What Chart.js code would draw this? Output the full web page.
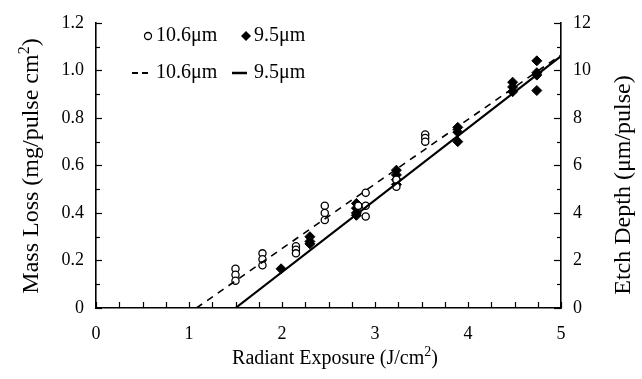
<!DOCTYPE html>
<html><head><meta charset="utf-8">
<script src="https://cdn.jsdelivr.net/npm/chart.js@4"></script>
<style>html,body{margin:0;padding:0;background:#fff}#wrap{width:642px;height:379px}</style>
</head><body>
<div id="wrap"><canvas id="c"></canvas></div>
<script>
// ---- data ----
const xTicks = [0, 1, 2, 3, 4, 5];
const yLeftTicks = [0, 0.2, 0.4, 0.6, 0.8, 1.0, 1.2];
const yRightTicks = [0, 2, 4, 6, 8, 10, 12];

// 10.6 um measured points (open circles)
const circX = [1.5, 1.5, 1.5, 1.79, 1.79, 1.79, 2.15, 2.15, 2.15, 2.46, 2.46, 2.46, 2.82, 2.9, 2.9, 2.9, 3.23, 3.23, 3.54, 3.54, 3.54];
const circY = [0.165, 0.14, 0.115, 0.23, 0.205, 0.18, 0.26, 0.245, 0.23, 0.43, 0.40, 0.37, 0.43, 0.485, 0.43, 0.385, 0.54, 0.51, 0.73, 0.715, 0.70];
// 9.5 um measured points (filled diamonds)
const diamX = [1.99, 2.3, 2.3, 2.3, 2.8, 2.8, 2.8, 2.8, 3.23, 3.23, 3.23, 3.23, 3.89, 3.89, 3.89, 4.48, 4.48, 4.48, 4.74, 4.74, 4.74, 4.74];
const diamY = [0.165, 0.30, 0.28, 0.27, 0.44, 0.42, 0.40, 0.39, 0.58, 0.56, 0.54, 0.52, 0.76, 0.74, 0.70, 0.95, 0.93, 0.91, 1.04, 0.99, 0.98, 0.915];
// fitted lines
const dashX = [1.08, 5.0];
const dashY = [0, 1.065];
const solidX = [1.5, 5.0];
const solidY = [0, 1.06];

const toPts = (xs, ys) => xs.map((x, i) => ({x, y: ys[i]}));
const SERIF = '"Liberation Serif", "DejaVu Serif", serif';

const inwardTicks = {
  id: 'inwardTicks',
  afterDatasetsDraw(chart) {
    const {ctx, chartArea: a, scales} = chart;
    ctx.save();
    ctx.strokeStyle = '#000';
    ctx.lineWidth = 1.2;
    const seg = (x1, y1, x2, y2) => { ctx.beginPath(); ctx.moveTo(x1, y1); ctx.lineTo(x2, y2); ctx.stroke(); };
    for (let i = 0; i <= 20; i++) {
      const px = Math.round(scales.x.getPixelForValue(i * 0.25)) + 0.5;
      seg(px, a.bottom, px, a.bottom - 6);
    }
    for (let i = 0; i <= 12; i++) {
      const py = Math.round(scales.y.getPixelForValue(i * 0.1)) + 0.5;
      seg(a.left, py, a.left + (i % 2 === 0 ? 6 : 4), py);
    }
    for (let i = 0; i <= 12; i++) {
      const py = Math.round(scales.y2.getPixelForValue(i)) + 0.5;
      seg(a.right, py, a.right - (i % 2 === 0 ? 7 : 4), py);
    }
    ctx.restore();
  }
};

// text with a superscript "2": parts = [before, sup, after]
function supText(ctx, parts, size, x, y, align) {
  const main = size + 'px ' + SERIF, small = Math.round(size * 0.68) + 'px ' + SERIF;
  ctx.font = main; const w1 = ctx.measureText(parts[0]).width, w3 = ctx.measureText(parts[2]).width;
  ctx.font = small; const w2 = ctx.measureText(parts[1]).width;
  const total = w1 + w2 + w3;
  let sx = align === 'center' ? x - total / 2 : x;
  ctx.textAlign = 'left'; ctx.textBaseline = 'alphabetic';
  ctx.font = main; ctx.fillText(parts[0], sx, y);
  ctx.font = small; ctx.fillText(parts[1], sx + w1, y - size * 0.38);
  ctx.font = main; ctx.fillText(parts[2], sx + w1 + w2, y);
}

const titlesPlugin = {
  id: 'axisTitles',
  afterDraw(chart) {
    const ctx = chart.ctx;
    ctx.save();
    ctx.fillStyle = '#000';
    // x title
    supText(ctx, ['Radiant Exposure (J/cm', '2', ')'], 20, 335, 364, 'center');
    // left title (reads bottom to top)
    ctx.save(); ctx.translate(38, 166); ctx.rotate(-Math.PI / 2);
    supText(ctx, ['Mass Loss (mg/pulse cm', '2', ')'], 24, 0, 0, 'center');
    ctx.restore();
    // right title (reads bottom to top)
    ctx.save(); ctx.translate(630, 185); ctx.rotate(-Math.PI / 2);
    ctx.font = '24px ' + SERIF; ctx.textAlign = 'center'; ctx.textBaseline = 'alphabetic';
    ctx.fillText('Etch Depth (\u03bcm/pulse)', 0, 0);
    ctx.restore();
    ctx.restore();
  }
};

const legendPlugin = {
  id: 'innerLegend',
  afterDraw(chart) {
    const ctx = chart.ctx;
    ctx.save();
    ctx.fillStyle = '#000';
    ctx.strokeStyle = '#000';
    ctx.font = '20px ' + SERIF;
    ctx.textBaseline = 'middle';
    ctx.textAlign = 'left';
    const r1 = 36, r2 = 73;
    ctx.lineWidth = 1.3;
    ctx.beginPath(); ctx.arc(148, r1, 3.5, 0, Math.PI * 2); ctx.stroke();
    ctx.fillText('10.6\u03bcm', 156, r1);
    ctx.beginPath(); ctx.moveTo(246, r1 - 5); ctx.lineTo(251, r1); ctx.lineTo(246, r1 + 5); ctx.lineTo(241, r1); ctx.closePath(); ctx.fill();
    ctx.fillText('9.5\u03bcm', 254, r1);
    ctx.lineWidth = 1.8;
    ctx.beginPath(); ctx.moveTo(132, r2); ctx.lineTo(138, r2); ctx.moveTo(142, r2); ctx.lineTo(148, r2); ctx.stroke();
    ctx.fillText('10.6\u03bcm', 156, r2);
    ctx.lineWidth = 2.5;
    ctx.beginPath(); ctx.moveTo(232, r2); ctx.lineTo(247, r2); ctx.stroke();
    ctx.fillText('9.5\u03bcm', 254, r2);
    ctx.restore();
  }
};

new Chart(document.getElementById('c'), {
  type: 'scatter',
  data: {
    datasets: [
      {label: '10.6\u03bcm fit', type: 'line', data: toPts(dashX, dashY), borderColor: '#000', borderWidth: 1.6, borderDash: [7, 6], pointRadius: 0, fill: false, yAxisID: 'y'},
      {label: '9.5\u03bcm fit', type: 'line', data: toPts(solidX, solidY), borderColor: '#000', borderWidth: 2.2, pointRadius: 0, fill: false, yAxisID: 'y'},
      {label: '10.6\u03bcm', data: toPts(circX, circY), pointStyle: 'circle', pointRadius: 3.6, backgroundColor: '#fff', borderColor: '#000', borderWidth: 1.3, yAxisID: 'y'},
      {label: '9.5\u03bcm', data: toPts(diamX, diamY), pointStyle: 'rectRot', pointRadius: 5, backgroundColor: '#000', borderColor: '#000', borderWidth: 1, yAxisID: 'y'}
    ]
  },
  options: {
    responsive: true, maintainAspectRatio: false, animation: false,
    layout: {padding: {top: 17, left: 0, right: 0, bottom: 0}},
    plugins: {legend: {display: false}, tooltip: {enabled: false}},
    scales: {
      x: {
        type: 'linear', min: 0, max: 5,
        afterFit: s => { s.height = 71; },
        grid: {display: false, drawTicks: false},
        border: {display: true, color: '#000', width: 1.6},
        afterBuildTicks: s => { s.ticks = xTicks.map(v => ({value: v})); },
        ticks: {color: '#000', font: {family: SERIF, size: 18}, padding: 15, callback: v => String(v)},
        title: {display: false}
      },
      y: {
        type: 'linear', position: 'left', min: 0, max: 1.2,
        afterFit: s => { s.width = 96; },
        grid: {display: false, drawTicks: false},
        border: {display: true, color: '#000', width: 1.6},
        afterBuildTicks: s => { s.ticks = yLeftTicks.map(v => ({value: v})); },
        ticks: {color: '#000', font: {family: SERIF, size: 18}, padding: 12, callback: v => v === 0 ? '0' : v.toFixed(1)},
        title: {display: false}
      },
      y2: {
        type: 'linear', position: 'right', min: 0, max: 12,
        afterFit: s => { s.width = 81; },
        grid: {display: false, drawTicks: false},
        border: {display: true, color: '#000', width: 1.6},
        afterBuildTicks: s => { s.ticks = yRightTicks.map(v => ({value: v})); },
        ticks: {color: '#000', font: {family: SERIF, size: 18}, padding: 12, callback: v => String(v)},
        title: {display: false}
      }
    }
  },
  plugins: [inwardTicks, legendPlugin, titlesPlugin]
});
</script>
</body></html>
